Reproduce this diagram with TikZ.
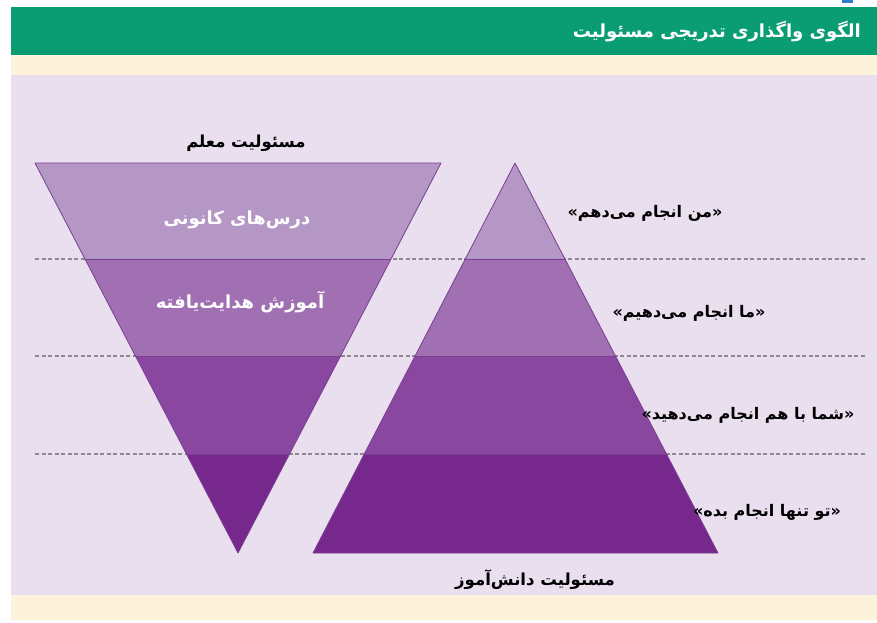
\documentclass[tikz,border=0pt]{standalone}
\usepackage{fontspec}
\usetikzlibrary{calc}
\TeXXeTstate=1
\newfontfamily\fa[Script=Arabic]{DejaVu Sans}
\newfontfamily\lat{DejaVu Sans}
\newcommand{\gqopen}{{\lat\bfseries «}}
\newcommand{\gqclose}{{\lat\bfseries »}}
\definecolor{hdrgreen}{HTML}{0A9D74}
\definecolor{cream}{HTML}{FDF3DA}
\definecolor{lav}{HTML}{E9DFEE}
\definecolor{bandA}{HTML}{B597C6}
\definecolor{bandB}{HTML}{A070B3}
\definecolor{bandC}{HTML}{8A47A0}
\definecolor{bandD}{HTML}{76288C}
\definecolor{edge}{HTML}{7A3E92}
\definecolor{dashgray}{HTML}{8C8A90}
\definecolor{topblue}{HTML}{2F7FD0}
\tikzset{
  band/.style={draw=edge, line width=0.8pt, line join=round},
  guide/.style={draw=dashgray, line width=1.3pt, dash pattern=on 4pt off 2.5pt},
  lbl/.style={font=\fa\bfseries\fontsize{16}{19}\selectfont, text=black, inner sep=1pt},
  rlbl/.style={font=\fa\bfseries\fontsize{16.5}{19}\selectfont, text=black, inner sep=1pt},
  wlbl/.style={font=\fa\bfseries\fontsize{18}{21}\selectfont, text=white, inner sep=1pt},
  ttl/.style={font=\fa\bfseries\fontsize{18}{21}\selectfont, text=white, inner sep=1pt}
}
\begin{document}
\begin{tikzpicture}[x=1pt,y=-1pt]
\useasboundingbox (0,0) rectangle (877,622);
\fill[white] (0,0) rectangle (877,622);
% backgrounds
\fill[topblue] (842,0) rectangle (853,3);
\fill[hdrgreen] (11,7) rectangle (877,55);
\fill[cream] (11,55) rectangle (877,75);
\fill[lav] (11,75) rectangle (877,595);
\fill[cream] (11,595) rectangle (877,620);
% guide lines
\foreach \yy in {259,356,454} \draw[guide] (35,\yy) -- (865,\yy);
% left inverted triangle
\coordinate (LTL) at (35,163);
\coordinate (LTR) at (441,163);
\coordinate (LA) at (238,553);
\coordinate (L1l) at ($(LTL)!{96/390}!(LA)$);
\coordinate (L1r) at ($(LTR)!{96/390}!(LA)$);
\coordinate (L2l) at ($(LTL)!{193/390}!(LA)$);
\coordinate (L2r) at ($(LTR)!{193/390}!(LA)$);
\coordinate (L3l) at ($(LTL)!{291/390}!(LA)$);
\coordinate (L3r) at ($(LTR)!{291/390}!(LA)$);
\fill[bandA] (LTL) -- (LTR) -- (L1r) -- (L1l) -- cycle;
\fill[bandB] (L1l) -- (L1r) -- (L2r) -- (L2l) -- cycle;
\fill[bandC] (L2l) -- (L2r) -- (L3r) -- (L3l) -- cycle;
\fill[bandD] (L3l) -- (L3r) -- (LA) -- cycle;
\draw[band] (LTL) -- (LTR) -- (LA) -- cycle;
\draw[band] (L1l) -- (L1r) (L2l) -- (L2r) (L3l) -- (L3r);
% right triangle
\coordinate (RA) at (515,163);
\coordinate (RBL) at (313,553);
\coordinate (RBR) at (718,553);
\coordinate (R1l) at ($(RA)!{96/390}!(RBL)$);
\coordinate (R1r) at ($(RA)!{96/390}!(RBR)$);
\coordinate (R2l) at ($(RA)!{193/390}!(RBL)$);
\coordinate (R2r) at ($(RA)!{193/390}!(RBR)$);
\coordinate (R3l) at ($(RA)!{291/390}!(RBL)$);
\coordinate (R3r) at ($(RA)!{291/390}!(RBR)$);
\fill[bandA] (RA) -- (R1r) -- (R1l) -- cycle;
\fill[bandB] (R1l) -- (R1r) -- (R2r) -- (R2l) -- cycle;
\fill[bandC] (R2l) -- (R2r) -- (R3r) -- (R3l) -- cycle;
\fill[bandD] (R3l) -- (R3r) -- (RBR) -- (RBL) -- cycle;
\draw[band] (RA) -- (RBR) -- (RBL) -- cycle;
\draw[band] (R1l) -- (R1r) (R2l) -- (R2r) (R3l) -- (R3r);
% texts
\node[ttl, anchor=east] (title) at (862,32) {\beginR الگوی واگذاری تدریجی مسئولیت\endR};
\node[rlbl] (teacher) at (246,143) {\beginR مسئولیت معلم\endR};
\node[wlbl] (focus) at (237,220) {\beginR درس‌های کانونی\endR};
\node[wlbl] (guided) at (240,302) {\beginR آموزش هدایت‌یافته\endR};
\node[lbl] (idoit) at (645,213) {\gqopen\beginR من انجام می‌دهم\endR\gqclose};
\node[lbl] (wedoit) at (689,313) {\gqopen\beginR ما انجام می‌دهیم\endR\gqclose};
\node[lbl] (youdo) at (748,415) {\gqopen\beginR شما با هم انجام می‌دهید\endR\gqclose};
\node[lbl] (alone) at (767,512) {\gqopen\beginR تو تنها انجام بده\endR\gqclose};
\node[rlbl] (student) at (535,580) {\beginR مسئولیت دانش‌آموز\endR};
\end{tikzpicture}
\end{document}
